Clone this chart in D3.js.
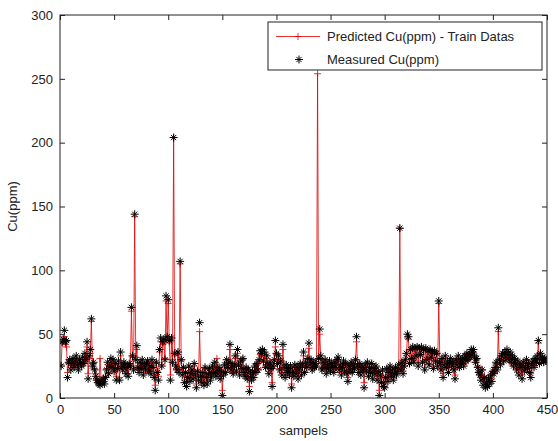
<!DOCTYPE html>
<html><head><meta charset="utf-8">
<script src="https://cdn.jsdelivr.net/npm/d3@7"></script>
<style>
html,body{margin:0;padding:0;background:#fff;}
text{font-family:"Liberation Sans",Arial,Helvetica,sans-serif;}
</style></head>
<body><svg id="chart" width="558" height="441"></svg>
<script>
// sample numbers 1..450
const measured = [
25,44,46,53,44,45,16,28,30,22,
27,31,24,29,33,26,22,30,28,25,
32,27,35,30,44,15,33,38,62,25,
28,22,17,14,12,11,10,13,12,15,
11,16,22,28,19,25,31,24,30,21,
27,14,23,29,14,36,25,22,28,26,
19,24,17,27,25,71,33,22,144,30,
41,24,20,28,23,30,18,26,22,27,
29,21,25,19,30,24,16,6,28,20,
14,38,47,25,44,46,30,80,48,77,
45,14,47,28,204,35,25,22,36,20,
107,30,18,24,12,20,9,16,25,13,
19,22,15,27,18,8,21,14,59,17,
12,20,10,24,16,11,19,23,14,18,
25,20,28,17,22,19,24,15,21,2,
18,26,20,30,24,28,42,22,27,19,
25,33,21,38,26,18,29,23,31,20,
17,24,15,22,5,19,14,21,16,25,
20,27,22,30,37,35,38,29,36,24,
33,26,19,28,23,9,25,30,45,35,
27,33,22,29,18,42,24,16,26,20,
23,18,25,8,21,17,26,19,24,15,
22,27,18,25,36,20,28,24,31,43,
26,30,22,28,24,27,25,270,31,54,
33,22,28,24,30,19,26,23,29,21,
27,25,20,28,24,30,32,22,26,18,
24,29,21,27,19,13,25,22,28,20,
26,23,30,48,25,20,27,18,24,22,
8,26,21,28,17,24,20,27,15,23,
19,25,14,21,2,18,12,22,9,8,
16,23,13,20,25,17,22,14,19,24,
18,21,26,133,22,28,19,25,30,35,
50,48,27,38,31,40,28,39,33,40,
25,39,34,40,28,38,22,39,30,37,
26,38,32,36,23,37,29,35,25,76,
28,22,31,16,26,33,24,29,20,27,
31,25,28,22,15,30,26,33,24,29,
27,31,25,33,29,35,30,34,32,38,
36,38,33,28,31,24,20,18,14,22,
10,16,8,12,9,15,11,18,13,21,
19,24,28,22,55,30,26,33,35,29,
36,32,38,34,30,36,28,33,25,31,
27,22,29,18,26,24,15,28,21,25,
30,23,27,20,16,26,29,24,31,28,
33,45,27,35,30,32,28,31,29,30
];
const predicted = [
26,43,44,48,42,40,20,27,29,24,
26,29,25,28,31,27,24,28,27,26,
30,28,32,29,40,19,31,35,60,27,
27,23,19,15,14,12,31,14,13,16,
13,17,23,26,20,25,29,25,28,22,
26,17,24,27,16,33,25,23,27,26,
21,24,19,26,25,68,32,23,142,32,
38,25,22,27,24,28,20,25,23,26,
28,22,25,21,28,24,18,10,27,21,
17,36,44,26,42,44,31,76,46,74,
43,18,44,30,204,33,26,23,34,22,
105,29,20,23,14,21,12,17,24,15,
20,21,17,25,19,11,21,16,52,18,
14,20,12,23,17,13,19,22,16,19,
24,21,26,19,31,20,23,17,21,6,
19,25,21,28,24,27,38,23,26,20,
25,31,22,35,25,20,28,23,30,21,
18,23,17,22,9,20,16,21,18,24,
21,26,23,29,34,33,35,28,34,25,
31,26,21,27,23,12,25,29,40,34,
27,31,23,28,20,38,24,18,26,21,
23,20,24,11,22,19,25,20,24,17,
23,26,20,25,33,21,27,24,30,39,
26,29,23,27,25,26,27,254,30,50,
31,23,27,25,29,21,26,24,28,22,
26,25,22,27,24,29,30,23,26,20,
24,28,22,26,21,16,25,23,27,21,
26,24,29,44,25,22,26,20,24,23,
12,25,22,27,19,24,21,26,18,23,
20,24,17,21,6,19,15,21,12,11,
17,22,15,21,24,18,22,16,20,23,
19,22,24,133,23,27,21,25,29,33,
47,46,28,37,30,39,29,38,32,39,
27,38,33,39,29,37,24,38,30,36,
27,37,31,35,25,36,29,34,27,74,
28,23,30,19,26,31,24,28,22,27,
29,25,27,23,18,29,26,31,24,28,
27,30,26,32,29,34,30,33,32,36,
35,36,32,28,30,25,21,19,16,22,
13,17,11,14,12,16,13,18,15,21,
20,24,27,24,52,29,27,32,33,29,
34,31,36,33,30,34,28,32,26,30,
27,23,28,20,26,24,18,27,22,25,
29,24,27,21,19,26,28,25,30,28,
31,43,28,33,30,31,28,30,29,29
];
const xTicks = [0,50,100,150,200,250,300,350,400,450];
const yTicks = [0,50,100,150,200,250,300];
const legendLabels = ["Predicted Cu(ppm) - Train Datas","Measured Cu(ppm)"];
const xLabel = "sampels";
const yLabel = "Cu(ppm)";

const svg = d3.select("#chart");
const L = 60, R = 547, T = 15, B = 398;
const x = d3.scaleLinear().domain([0,450]).range([L,R]);
const y = d3.scaleLinear().domain([0,300]).range([B,T]);
const samples = measured.map((d,i)=>i+1);

svg.append("clipPath").attr("id","clip").append("rect")
  .attr("x",L).attr("y",T).attr("width",R-L).attr("height",B-T);

const plot = svg.append("g").attr("clip-path","url(#clip)");

// predicted line
plot.append("path")
  .datum(samples)
  .attr("fill","none").attr("stroke","#e00000").attr("stroke-width",0.8)
  .attr("d", d3.line().x(s=>x(s)).y(s=>y(predicted[s-1])));

const plusPath = "M-3.5,0H3.5M0,-3.5V3.5";
plot.append("g").selectAll("path").data(samples).join("path")
  .attr("transform", s=>`translate(${x(s)},${y(predicted[s-1])})`)
  .attr("d", plusPath).attr("stroke","#e00000").attr("stroke-width",0.8).attr("fill","none");

const starPath = "M-4,0H4M0,-4V4M-2.6,-2.6L2.6,2.6M-2.6,2.6L2.6,-2.6";
plot.append("g").selectAll("path").data(samples).join("path")
  .attr("transform", s=>`translate(${x(s)},${y(measured[s-1])})`)
  .attr("d", starPath).attr("stroke","#000").attr("stroke-width",1).attr("fill","none");

// axes
const axCol = "#222";
function styleAxis(g){
  g.select(".domain").remove();
  g.selectAll(".tick line").attr("stroke",axCol);
  g.selectAll(".tick text").attr("fill","#222").style("font-size","13px");
}
svg.append("g").attr("transform",`translate(0,${B})`)
  .call(d3.axisBottom(x).tickValues(xTicks).tickSizeInner(-5).tickSizeOuter(0).tickPadding(7).tickFormat(d3.format("d")))
  .call(styleAxis);
svg.append("g").attr("transform",`translate(${L},0)`)
  .call(d3.axisLeft(y).tickValues(yTicks).tickSizeInner(-5).tickSizeOuter(0).tickPadding(7).tickFormat(d3.format("d")))
  .call(styleAxis);
svg.append("g").attr("transform",`translate(0,${T})`)
  .call(d3.axisTop(x).tickValues(xTicks).tickSizeInner(-5).tickSizeOuter(0).tickFormat(""))
  .call(styleAxis);
svg.append("g").attr("transform",`translate(${R},0)`)
  .call(d3.axisRight(y).tickValues(yTicks).tickSizeInner(-5).tickSizeOuter(0).tickFormat(""))
  .call(styleAxis);
svg.append("rect").attr("x",L).attr("y",T).attr("width",R-L).attr("height",B-T)
  .attr("fill","none").attr("stroke",axCol).attr("stroke-width",1);

// labels
svg.append("text").attr("x",(L+R)/2).attr("y",435).attr("text-anchor","middle")
  .style("font-size","13px").attr("fill","#222").text(xLabel);
svg.append("text").attr("transform",`translate(17,${(T+B)/2}) rotate(-90)`).attr("text-anchor","middle")
  .style("font-size","13px").attr("fill","#222").text(yLabel);

// legend
const lg = svg.append("g");
lg.append("rect").attr("x",268).attr("y",22).attr("width",274).attr("height",48)
  .attr("fill","#fff").attr("stroke","#222").attr("stroke-width",1);
lg.append("line").attr("x1",276).attr("x2",320).attr("y1",36.5).attr("y2",36.5)
  .attr("stroke","#e00000").attr("stroke-width",0.8);
lg.append("path").attr("d",plusPath).attr("transform","translate(298,36.5)")
  .attr("stroke","#e00000").attr("stroke-width",0.8);
lg.append("path").attr("d",starPath).attr("transform","translate(299,59.5)")
  .attr("stroke","#000").attr("stroke-width",1);
lg.selectAll("text.lt").data(legendLabels).join("text").attr("class","lt")
  .attr("x",327).attr("y",(d,i)=>36.5+i*23).attr("dy","0.35em")
  .style("font-size","13px").attr("fill","#222").text(d=>d);
</script></body></html>
